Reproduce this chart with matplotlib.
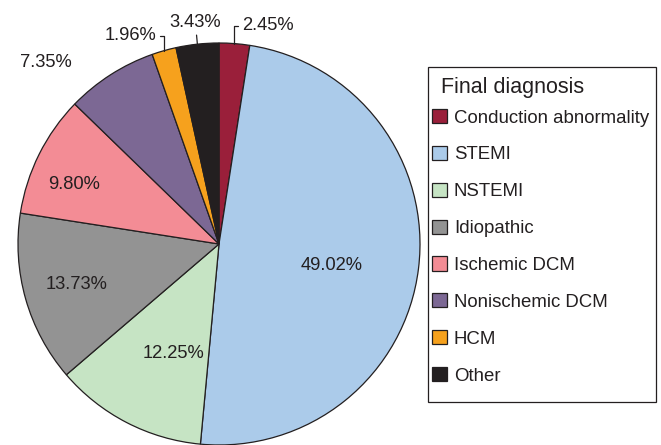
import numpy as np
import matplotlib
matplotlib.use("Agg")
from matplotlib import pyplot as plt
from matplotlib.patches import Rectangle

plt.rcParams['font.family'] = ['Liberation Sans', 'DejaVu Sans']
plt.rcParams['text.color'] = '#231f20'

categories = ["Conduction abnormality", "STEMI", "NSTEMI", "Idiopathic",
              "Ischemic DCM", "Nonischemic DCM", "HCM", "Other"]
values = [2.45, 49.02, 12.25, 13.73, 9.80, 7.35, 1.96, 3.43]
colors = ["#9a1f3a", "#abcbea", "#c6e4c4", "#939393",
          "#f38c95", "#7c6894", "#f6a11d", "#231f20"]

fig = plt.figure(figsize=(6.61, 4.45), dpi=100)
W, H = 661, 445
# pie axes: circle centre (219, 244) px from top, radius 201 px
ax = fig.add_axes([18 / W, 0, 402 / W, 402 / H])
wedges, _ = ax.pie(values, colors=colors, startangle=90, counterclock=False,
                   wedgeprops=dict(edgecolor="#231f20", linewidth=0.9))
ax.set_xlim(-1, 1)
ax.set_ylim(-1, 1)
ax.set_aspect('equal')

labels = ["%.2f%%" % v for v in values]
fs = 13.2

# label placement: (radius factor, angle offset in deg)
inside = {1: (0.57, -3.5), 2: (0.59, 5), 3: (0.735, 0), 4: (0.78, 4), 5: (1.25, 11)}
for i, w in enumerate(wedges):
    mid = np.deg2rad((w.theta1 + w.theta2) / 2)
    if i in inside:
        r, off = inside[i]
        a = mid + np.deg2rad(off)
        ax.text(r * np.cos(a), r * np.sin(a), labels[i], ha='center', va='center', fontsize=fs)

# small wedges at the top get leader lines
def leader(i, dx, ty, ha):
    w = wedges[i]
    mid = np.deg2rad((w.theta1 + w.theta2) / 2)
    x0, y0 = np.cos(mid), np.sin(mid)
    if ha == 'center':
        ax.annotate(labels[i], xy=(x0, y0), xytext=(x0 + dx, ty), ha='center', va='bottom',
                    fontsize=fs, annotation_clip=False,
                    arrowprops=dict(arrowstyle='-', color='#231f20', lw=0.9,
                                    shrinkA=1, shrinkB=0))
    else:
        ax.annotate(labels[i], xy=(x0, y0), xytext=(x0 + dx, ty), ha=ha, va='center',
                    fontsize=fs, annotation_clip=False,
                    arrowprops=dict(arrowstyle='-', color='#231f20', lw=0.9,
                                    shrinkA=1, shrinkB=0,
                                    connectionstyle='angle,angleA=0,angleB=90,rad=0'))

leader(6, -0.04, 1.035, 'right')
leader(7, -0.01, 1.06, 'center')
leader(0, 0.04, 1.085, 'left')

# legend box and title drawn by hand, entries from the wedges
fig.patches.append(Rectangle((428 / W, 1 - 402 / H), 228 / W, 335 / H,
                             transform=fig.transFigure, facecolor='white',
                             edgecolor='#231f20', linewidth=0.9))
fig.text(441 / W, 1 - 88 / H, "Final diagnosis", fontsize=15.5, va='center', ha='left')
leg = fig.legend(wedges, categories, loc='upper left',
                 bbox_to_anchor=(432 / W, 1 - 109 / H), fontsize=13.4,
                 frameon=False, handlelength=0.8, handleheight=0.8,
                 handletextpad=0.38, labelspacing=1.035, borderpad=0, borderaxespad=0)

fig.savefig("out.png", dpi=100)
